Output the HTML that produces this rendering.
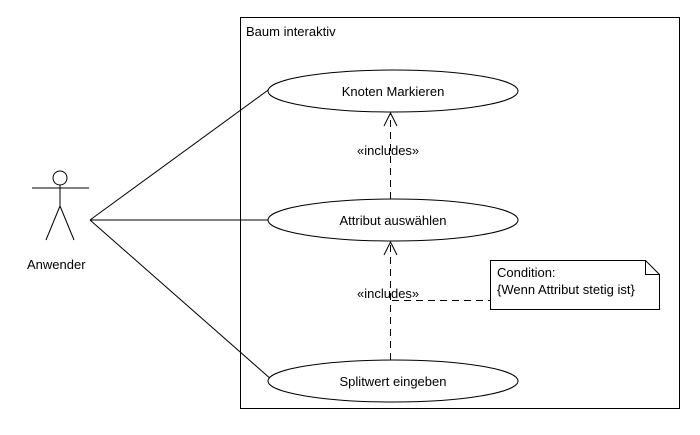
<!DOCTYPE html><html><head><style>body{margin:0;background:#fff}svg text{font-family:"Liberation Sans",sans-serif;font-size:13px;fill:#000}</style></head><body>
<svg width="700" height="430" viewBox="0 0 700 430" xmlns="http://www.w3.org/2000/svg">
<rect x="0" y="0" width="700" height="430" fill="#fff"/>
<g stroke="#000" stroke-width="1" fill="none">
<rect x="240.5" y="17.5" width="439" height="391"/>
<circle cx="60" cy="178" r="7"/>
<line x1="32" y1="188" x2="89" y2="188"/>
<line x1="60" y1="185" x2="60" y2="206"/>
<line x1="60" y1="206" x2="46" y2="240"/>
<line x1="60" y1="206" x2="74" y2="240"/>
<line x1="90" y1="220" x2="271" y2="88"/>
<line x1="90" y1="220" x2="270" y2="220"/>
<line x1="90" y1="220" x2="272" y2="380"/>
<ellipse cx="393" cy="91" rx="125" ry="21" fill="#fff"/>
<ellipse cx="393" cy="220" rx="125" ry="21" fill="#fff"/>
<ellipse cx="393" cy="381" rx="125" ry="21" fill="#fff"/>
<line x1="390.5" y1="199" x2="390.5" y2="113" stroke-dasharray="7,5"/>
<polyline points="384,126 390.5,113 397,126"/>
<line x1="390.5" y1="360" x2="390.5" y2="242" stroke-dasharray="7,5"/>
<polyline points="384,255 390.5,242 397,255"/>
<line x1="392" y1="300.5" x2="490" y2="300.5" stroke-dasharray="7,5"/>
<path d="M490.5 260.5 H645.5 L659.5 274.5 V309.5 H490.5 Z" fill="#fff"/>
<polyline points="645.5,260.5 645.5,274.5 659.5,274.5"/>
</g>
<text x="246" y="36">Baum interaktiv</text>
<text x="27" y="269">Anwender</text>
<text x="393" y="96" text-anchor="middle">Knoten Markieren</text>
<text x="393" y="225" text-anchor="middle">Attribut auswählen</text>
<text x="393" y="386" text-anchor="middle">Splitwert eingeben</text>
<text x="357" y="155">«includes»</text>
<text x="357" y="298">«includes»</text>
<text x="497" y="277">Condition:</text>
<text x="497" y="294">{Wenn Attribut stetig ist}</text>
</svg></body></html>
